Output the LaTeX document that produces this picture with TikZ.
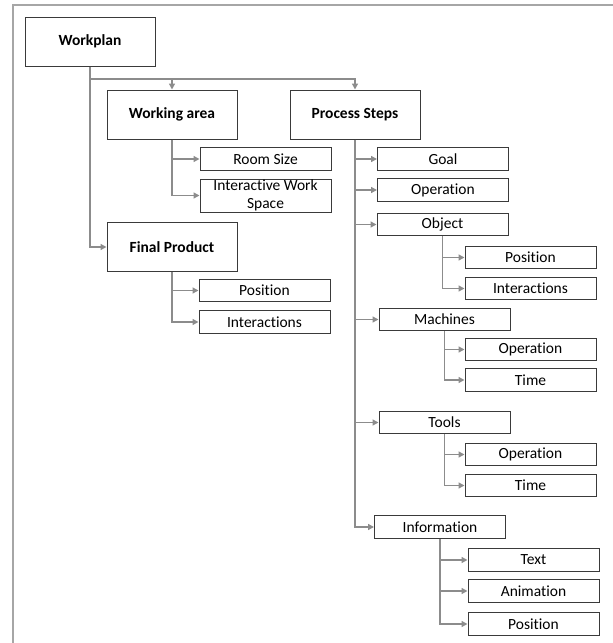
\documentclass[tikz,border=0pt]{standalone}
\usepackage{fontspec}
\setmainfont[Ligatures=NoCommon]{Carlito}
\usetikzlibrary{arrows.meta}
\definecolor{linegray}{HTML}{8C8C8C}
\definecolor{framegray}{HTML}{A6A6A6}
\definecolor{boxline}{HTML}{3A3A3A}
\tikzset{
  mainbox/.style={draw=boxline, line width=1pt, fill=white, inner sep=0pt,
    minimum width=130pt, minimum height=49pt,
    font=\fontsize{15.5}{18}\selectfont\bfseries},
  subbox/.style={draw=boxline, line width=1pt, fill=white, inner sep=0pt,
    minimum width=131pt, minimum height=22.5pt,
    font=\fontsize{15.5}{18}\selectfont},
  conn/.style={draw=linegray, line width=1.4pt,
    -{Triangle[length=6pt,width=6pt,fill=linegray]}},
  wire/.style={draw=linegray, line width=1.4pt}
}
\begin{document}
\begin{tikzpicture}[x=1pt,y=-1pt]
\useasboundingbox (0,0) rectangle (613,643);
% frame
\draw[framegray, line width=2pt] (13,643) -- (13,5) -- (613,5);

% top level
\node[mainbox] (wp) at (90,41.5) {Workplan};
\node[mainbox] (wa) at (172,114.5) {Working area};
\node[mainbox] (ps) at (355,114.5) {Process Steps};
\node[mainbox] (fp) at (172,247) {Final Product};

% working area children
\node[subbox] (rs) at (265.5,159) {Room Size};
\node[subbox, minimum height=33pt, align=center, font=\fontsize{15.5}{17.5}\selectfont] (iws) at (265.5,195.5) {Interactive Work\\Space};

% final product children
\node[subbox] (fpos) at (264.5,290.5) {Position};
\node[subbox] (fint) at (264.5,322) {Interactions};

% process step children
\node[subbox] (goal) at (443,159) {Goal};
\node[subbox] (op) at (443,190) {Operation};
\node[subbox] (obj) at (442.5,224.5) {Object};
\node[subbox] (mach) at (444.5,319.5) {Machines};
\node[subbox] (tools) at (444.5,422.5) {Tools};
\node[subbox] (info) at (440,527) {Information};

% object children
\node[subbox] (opos) at (530.5,257.5) {Position};
\node[subbox] (oint) at (530.5,288.5) {Interactions};
% machine children
\node[subbox] (mop) at (530.5,349.5) {Operation};
\node[subbox] (mtime) at (530.5,380) {Time};
% tool children
\node[subbox] (top) at (530.5,454.5) {Operation};
\node[subbox] (ttime) at (530.5,485.5) {Time};
% information children
\node[subbox] (itext) at (533.5,560) {Text};
\node[subbox] (ianim) at (533.5,591) {Animation};
\node[subbox] (ipos) at (533.5,624) {Position};

% workplan connectors
\coordinate (bus) at (90,79);
\draw[conn] (wp.south) |- (fp.west);
\draw[conn] (bus) -| (ps.north);
\draw[conn] (bus -| wa.north) -- (wa.north);

% working area connectors
\draw[conn] (wa.south) |- (iws.west);
\draw[conn] (wa.south |- rs.west) -- (rs.west);

% final product connectors
\draw[conn] (fp.south) |- (fint.west);
\draw[conn] (fp.south |- fpos.west) -- (fpos.west);

% process step connectors
\draw[conn] (ps.south) |- (info.west);
\foreach \c in {goal,op,obj,mach,tools}
  \draw[conn] (ps.south |- \c.west) -- (\c.west);

% object connectors
\draw[conn] (obj.south) |- (oint.west);
\draw[conn] (obj.south |- opos.west) -- (opos.west);
% machine connectors
\draw[conn] (mach.south) |- (mtime.west);
\draw[conn] (mach.south |- mop.west) -- (mop.west);
% tool connectors
\draw[conn] (tools.south) |- (ttime.west);
\draw[conn] (tools.south |- top.west) -- (top.west);
% information connectors
\draw[conn] (info.south) |- (ipos.west);
\draw[conn] (info.south |- itext.west) -- (itext.west);
\draw[conn] (info.south |- ianim.west) -- (ianim.west);
\end{tikzpicture}
\end{document}
